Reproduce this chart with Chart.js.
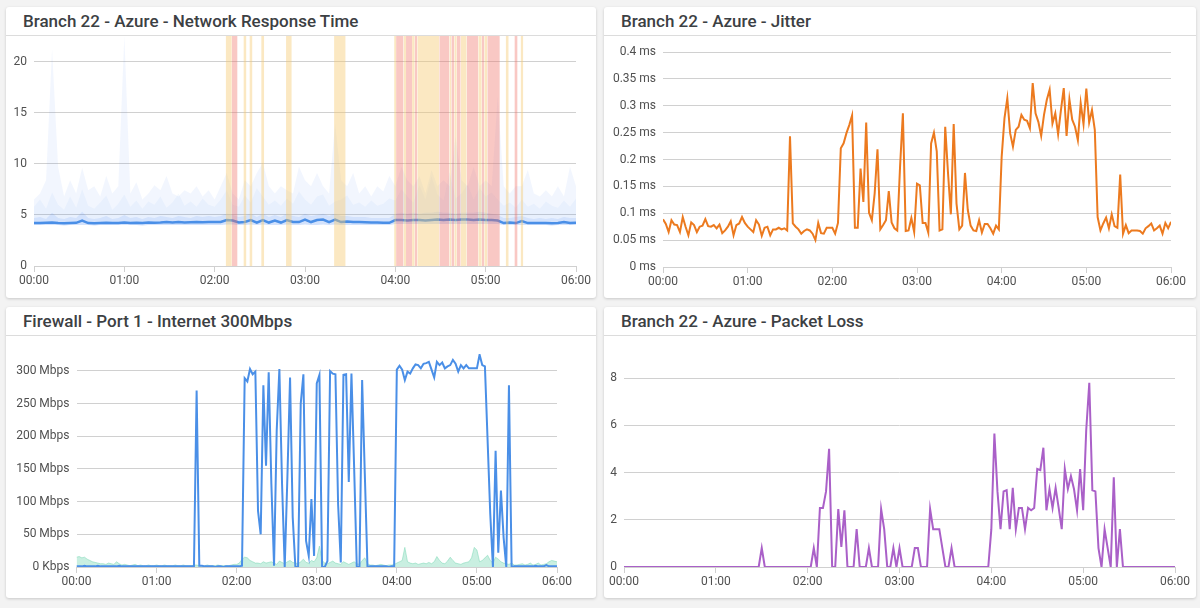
<!DOCTYPE html>
<html>
<head>
<meta charset="utf-8">
<script src="https://cdn.jsdelivr.net/npm/chart.js@4/dist/chart.umd.min.js"></script>
<style>
  html, body { margin: 0; padding: 0; }
  body { width: 1200px; height: 608px; background: #f3f3f3; position: relative; overflow: hidden; font-family: Roboto, sans-serif; }
  .card { position: absolute; background: #fff; border-radius: 3px; box-shadow: 0 1px 3px rgba(0,0,0,0.18); }
  .card-title { height: 28px; line-height: 28px; padding-left: 17px; font-size: 17px; font-weight: 500; color: #3c4043; border-bottom: 1px solid #dcdcdc; white-space: nowrap; }
  .card canvas { display: block; }
</style>
</head>
<body>
<div class="card" style="left:6px;top:7px;width:590px;height:291px;">
  <div class="card-title">Branch 22 - Azure - Network Response Time</div>
  <canvas id="chart-rt" width="590" height="262"></canvas>
</div>
<div class="card" style="left:604px;top:7px;width:592px;height:291px;">
  <div class="card-title">Branch 22 - Azure - Jitter</div>
  <canvas id="chart-jitter" width="592" height="262"></canvas>
</div>
<div class="card" style="left:6px;top:307px;width:590px;height:291px;">
  <div class="card-title">Firewall - Port 1 - Internet 300Mbps</div>
  <canvas id="chart-fw" width="590" height="262"></canvas>
</div>
<div class="card" style="left:604px;top:307px;width:592px;height:291px;">
  <div class="card-title">Branch 22 - Azure - Packet Loss</div>
  <canvas id="chart-loss" width="592" height="262"></canvas>
</div>

<script>
'use strict';

// --- Network response time (4 min samples) ---
const RT_MEDIAN = [
  4.2, 4.2, 4.22, 4.25, 4.2, 4.18, 4.2, 4.22, 4.45, 4.2,
  4.18, 4.2, 4.22, 4.2, 4.2, 4.25, 4.2, 4.22, 4.2, 4.25,
  4.22, 4.25, 4.3, 4.25, 4.3, 4.25, 4.28, 4.3, 4.28, 4.3,
  4.3, 4.3, 4.5, 4.45, 4.25, 4.3, 4.5, 4.25, 4.5, 4.25,
  4.45, 4.25, 4.5, 4.3, 4.3, 4.55, 4.3, 4.5, 4.55, 4.3,
  4.55, 4.3, 4.35, 4.3, 4.3, 4.28, 4.25, 4.25, 4.22, 4.22,
  4.5, 4.5, 4.45, 4.5, 4.5, 4.45, 4.5, 4.55, 4.5, 4.55,
  4.5, 4.55, 4.55, 4.5, 4.55, 4.5, 4.5, 4.45, 4.2, 4.25,
  4.2, 4.4, 4.2, 4.2, 4.2, 4.2, 4.18, 4.2, 4.3, 4.2,
  4.22
];
const RT_LOW = [
  4.0, 4.0, 4.0, 4.0, 4.0, 3.95, 4.0, 4.0, 4.0, 4.0,
  3.95, 4.0, 4.0, 4.0, 4.0, 4.0, 4.0, 4.0, 3.95, 4.0,
  4.0, 4.0, 4.0, 4.0, 4.0, 4.0, 4.0, 4.0, 4.0, 4.0,
  4.0, 4.0, 4.05, 4.05, 4.0, 4.0, 4.05, 4.0, 4.05, 4.0,
  4.0, 4.0, 4.05, 4.0, 4.0, 4.05, 4.0, 4.0, 4.05, 4.0,
  4.05, 4.0, 4.0, 4.0, 4.0, 4.0, 4.0, 4.0, 4.0, 4.0,
  4.1, 4.1, 4.1, 4.1, 4.1, 4.1, 4.1, 4.1, 4.1, 4.1,
  4.1, 4.1, 4.1, 4.1, 4.1, 4.1, 4.1, 4.1, 4.0, 4.0,
  4.0, 4.0, 4.0, 4.0, 4.0, 4.0, 3.95, 4.0, 4.0, 4.0,
  4.0
];
const RT_P75 = [
  4.7, 4.8, 4.6, 5.2, 4.7, 4.6, 4.8, 4.7, 5.3, 4.7,
  4.6, 4.7, 4.9, 4.6, 4.7, 5.0, 4.7, 4.8, 4.6, 4.8,
  4.7, 4.9, 4.8, 4.7, 4.9, 4.8, 4.7, 4.9, 4.8, 4.9,
  4.8, 4.9, 5.1, 5.0, 4.8, 4.9, 5.1, 4.8, 5.1, 4.8,
  5.0, 4.8, 5.1, 4.9, 4.8, 5.1, 4.9, 5.0, 5.1, 4.9,
  5.1, 4.9, 4.9, 4.8, 4.8, 4.8, 4.7, 4.7, 4.7, 4.7,
  5.1, 5.2, 5.1, 5.2, 5.1, 5.2, 5.2, 5.3, 5.2, 5.2,
  5.1, 5.2, 5.2, 5.2, 5.3, 5.2, 5.1, 5.0, 4.7, 4.7,
  4.8, 4.9, 4.7, 4.6, 4.7, 4.6, 4.7, 4.6, 4.8, 4.7,
  4.7
];
const RT_P90 = [
  5.8, 6.5, 5.6, 7.2, 6.0, 5.5, 6.8, 5.7, 7.5, 5.9,
  5.6, 6.2, 6.9, 5.5, 6.1, 7.0, 5.8, 6.4, 5.6, 6.3,
  6.0, 6.8, 5.7, 6.2, 7.1, 5.9, 6.3, 5.8, 6.6, 6.0,
  5.8, 6.5, 7.4, 6.0, 5.8, 6.9, 6.2, 7.6, 6.8, 6.0,
  6.4, 5.9, 6.6, 6.1, 7.3, 6.5, 6.0, 6.8, 7.0, 5.9,
  6.3, 6.5, 6.9, 6.0, 6.2, 5.8, 6.4, 5.9, 6.1, 6.6,
  6.4, 7.5, 6.8, 6.2, 7.9, 6.5, 8.8, 7.0, 6.4, 9.2,
  6.6, 7.1, 8.0, 6.5, 7.6, 6.8, 7.2, 6.5, 5.9, 6.2,
  5.7, 6.5, 5.8, 6.1, 5.6, 6.3, 5.9, 5.7, 6.4, 5.8,
  6.6
];
const RT_MAX = [
  6.5, 7.1, 8.4, 21.2, 9.7, 6.8, 8.4, 7.1, 9.6, 7.4,
  7.8, 6.8, 8.8, 7.1, 7.8, 22.5, 7.1, 8.2, 6.5, 7.1,
  7.9, 7.4, 8.8, 7.1, 6.8, 7.4, 7.1, 7.8, 6.8, 7.4,
  6.5, 7.8, 9.1, 7.1, 6.5, 8.4, 7.8, 9.1, 10.1, 7.8,
  7.1, 7.8, 7.4, 7.1, 9.7, 8.4, 7.8, 9.1, 7.8, 7.1,
  14.0, 8.4, 7.8, 9.1, 7.1, 7.8, 6.8, 7.8, 7.3, 8.8,
  7.8, 9.7, 8.4, 7.8, 8.8, 7.1, 9.4, 7.8, 8.4, 7.8,
  12.7, 8.4, 7.8, 9.7, 7.8, 8.4, 7.8, 16.6, 7.8, 7.1,
  7.8, 7.8, 9.4, 7.1, 6.8, 7.4, 6.8, 7.8, 6.8, 9.7,
  7.8
];
const RT_TIMES = RT_MEDIAN.map((_, i) => i * 4);
const RT_Y_MAX = 22.5;

// threshold bands, [start, end] in minutes
const RT_WARN_BANDS = [
  [127.3, 131.4], [139.1, 141.1], [143.1, 145.1], [150.9, 152.9], [167.4, 171.2],
  [199.3, 207.0], [239.2, 240.5], [245.4, 247.1], [251.1, 252.9], [254.6, 269.2],
  [275.9, 277.2], [279.2, 280.8], [283.4, 287.4], [295.1, 297.4], [299.1, 301.1],
  [313.3, 315.3], [323.2, 325.0]
];
const RT_ALERT_BANDS = [
  [131.4, 135.2], [240.5, 245.4], [247.1, 251.1], [252.9, 254.6], [269.2, 275.9],
  [277.2, 279.2], [280.8, 283.4], [287.4, 295.1], [297.4, 299.1], [301.1, 309.4],
  [319.1, 321.2]
];

// --- Jitter, firewall and packet loss (2 min samples) ---
const JITTER_MS = [
  0.089, 0.08, 0.065, 0.087, 0.079, 0.078, 0.065, 0.093, 0.075, 0.059,
  0.083, 0.078, 0.065, 0.075, 0.077, 0.089, 0.076, 0.075, 0.078, 0.072,
  0.079, 0.063, 0.068, 0.075, 0.085, 0.059, 0.078, 0.081, 0.093, 0.082,
  0.075, 0.07, 0.065, 0.087, 0.079, 0.058, 0.073, 0.075, 0.059, 0.07,
  0.07, 0.073, 0.07, 0.072, 0.068, 0.243, 0.081, 0.075, 0.07, 0.062,
  0.067, 0.07, 0.068, 0.062, 0.05, 0.082, 0.063, 0.062, 0.073, 0.073,
  0.073, 0.062, 0.082, 0.221, 0.23, 0.249, 0.264, 0.282, 0.073, 0.073,
  0.183, 0.121, 0.269, 0.101, 0.087, 0.137, 0.219, 0.07, 0.078, 0.087,
  0.141, 0.083, 0.072, 0.068, 0.187, 0.286, 0.067, 0.068, 0.091, 0.065,
  0.155, 0.152, 0.082, 0.082, 0.064, 0.23, 0.25, 0.215, 0.068, 0.07,
  0.261, 0.174, 0.098, 0.266, 0.118, 0.07, 0.077, 0.175, 0.106, 0.077,
  0.068, 0.067, 0.087, 0.064, 0.08, 0.08, 0.072, 0.062, 0.077, 0.07,
  0.205, 0.277, 0.314, 0.249, 0.224, 0.255, 0.261, 0.283, 0.274, 0.272,
  0.258, 0.342, 0.286, 0.27, 0.244, 0.283, 0.311, 0.33, 0.267, 0.286,
  0.247, 0.292, 0.333, 0.244, 0.312, 0.274, 0.261, 0.236, 0.305, 0.266,
  0.332, 0.269, 0.292, 0.255, 0.093, 0.068, 0.081, 0.092, 0.072, 0.098,
  0.076, 0.073, 0.172, 0.062, 0.078, 0.063, 0.068, 0.068, 0.068, 0.067,
  0.062, 0.072, 0.076, 0.081, 0.068, 0.072, 0.077, 0.062, 0.082, 0.072,
  0.084
];
const FW_IN_MBPS = [
  1, 1, 1, 2, 1, 1, 1, 1, 2, 1,
  1, 1, 1, 1, 1, 1, 2, 1, 1, 1,
  1, 1, 1, 1, 1, 1, 1, 1, 1, 1,
  1, 1, 1, 1, 1, 1, 1, 1, 1, 1,
  1, 1, 1, 1, 1, 270, 2, 2, 1, 1,
  1, 1, 0, 1, 1, 0, 1, 1, 1, 1,
  1, 1, 2, 289, 284, 303, 295, 299, 86, 50,
  278, 155, 298, 127, 2, 209, 303, 127, 0, 137,
  290, 76, 0, 0, 250, 295, 40, 17, 104, 17,
  281, 294, 0, 0, 9, 300, 296, 295, 96, 7,
  294, 295, 130, 296, 153, 0, 0, 286, 143, 0,
  1, 1, 1, 1, 1, 1, 1, 0, 1, 1,
  302, 308, 302, 286, 299, 296, 304, 310, 309, 304,
  311, 312, 314, 302, 290, 314, 309, 313, 304, 307,
  309, 317, 311, 299, 309, 304, 309, 304, 304, 304,
  304, 325, 309, 307, 194, 81, 0, 178, 22, 117,
  45, 0, 278, 0, 1, 1, 1, 1, 1, 1,
  1, 1, 2, 1, 1, 1, 3, 1, 1, 1,
  1
];
const FW_OUT_MBPS = [
  15, 16, 14, 15, 12, 10, 8, 7, 6, 5,
  5, 4, 6, 5, 4, 8, 5, 3, 4, 3,
  2, 3, 4, 2, 3, 2, 2, 3, 2, 2,
  3, 2, 2, 3, 2, 2, 2, 3, 2, 2,
  3, 2, 2, 2, 3, 3, 2, 2, 2, 3,
  2, 2, 2, 3, 2, 2, 2, 2, 3, 4,
  4, 6, 12, 15, 14, 10, 8, 6, 6, 5,
  8, 6, 7, 8, 6, 4, 9, 7, 5, 8,
  10, 7, 6, 5, 8, 12, 7, 6, 10, 8,
  14, 32, 10, 6, 5, 7, 9, 6, 5, 4,
  8, 6, 4, 6, 8, 5, 4, 10, 14, 5,
  3, 3, 2, 3, 4, 3, 2, 3, 3, 4,
  6, 8, 10, 30, 8, 6, 5, 6, 4, 5,
  6, 5, 7, 5, 8, 16, 10, 6, 5, 9,
  15, 10, 6, 5, 4, 6, 7, 8, 14, 30,
  26, 8, 10, 14, 18, 10, 6, 15, 12, 8,
  6, 5, 4, 6, 3, 3, 4, 5, 3, 4,
  6, 3, 4, 6, 3, 4, 5, 8, 10, 9,
  8
];
const PACKET_LOSS = [
  0, 0, 0, 0, 0, 0, 0, 0, 0, 0,
  0, 0, 0, 0, 0, 0, 0, 0, 0, 0,
  0, 0, 0, 0, 0, 0, 0, 0, 0, 0,
  0, 0, 0, 0, 0, 0, 0, 0, 0, 0,
  0, 0, 0, 0, 0, 0.8, 0, 0, 0, 0,
  0, 0, 0, 0, 0, 0, 0, 0, 0, 0,
  0, 0, 0.8, 0, 2.5, 2.5, 3.2, 5, 0, 0,
  2.45, 0.85, 2.4, 0, 0, 0, 1.6, 0, 0, 0,
  0.8, 0, 0, 0, 2.45, 1.6, 0, 0, 0.8, 0,
  0.8, 0, 0, 0, 0, 0.8, 0.8, 0, 0, 0,
  2.45, 1.6, 1.6, 1.6, 0.8, 0, 0, 0.8, 0, 0,
  0, 0, 0, 0, 0, 0, 0, 0, 0, 0,
  1.6, 5.65, 3.2, 1.6, 3.2, 3.25, 1.6, 3.35, 1.6, 2.5,
  2.5, 1.6, 2.5, 2.4, 2.5, 4.15, 4.1, 5.05, 2.4, 3.3,
  2.5, 3.35, 2.5, 1.6, 4.15, 3.3, 3.85, 3.3, 2.4, 4.15,
  2.4, 5.8, 7.8, 3.25, 3.2, 0.8, 0, 1.6, 0.8, 0,
  3.8, 0, 1.6, 0, 0, 0, 0, 0, 0, 0,
  0, 0, 0, 0, 0, 0, 0, 0, 0, 0,
  0
];
const SAMPLE_MINUTES = JITTER_MS.map((_, i) => i * 2);

const HOUR_TICKS = ['00:00', '01:00', '02:00', '03:00', '04:00', '05:00', '06:00'];

const BLUE = '#4a8fe7';
const ORANGE = '#ec7a1f';
const PURPLE = '#aa60c8';
const GRID = '#d0d0d0';
const TICK_COLOR = '#505050';

Chart.defaults.font.family = 'Roboto, sans-serif';
Chart.defaults.font.size = 12;
Chart.defaults.color = TICK_COLOR;
Chart.defaults.animation = false;

function timeAxis(height) {
  return {
    type: 'linear', min: 0, max: 360,
    ticks: { stepSize: 60, padding: 2, maxRotation: 0, autoSkip: false, color: TICK_COLOR, callback: v => HOUR_TICKS[v / 60] },
    grid: { drawOnChartArea: false, drawTicks: true, tickLength: 6, color: GRID },
    border: { display: true, color: GRID },
    afterFit: s => { s.height = height; }
  };
}

function valueAxis(width, max, step, fmt) {
  return {
    min: 0, max,
    ticks: { stepSize: step, padding: 7, color: TICK_COLOR, callback: fmt },
    afterBuildTicks: s => { s.ticks = s.ticks.filter(t => Math.abs(t.value / step - Math.round(t.value / step)) < 1e-6); },
    grid: { drawTicks: false, color: GRID },
    border: { display: false },
    // fixed axis width, and no extra room above the top label
    afterFit: s => { s.width = width; s.paddingTop = 0; s.paddingBottom = 0; }
  };
}

function baseOptions(pad, scales) {
  return {
    responsive: false,
    animation: false,
    layout: { padding: pad },
    plugins: { legend: { display: false }, tooltip: { enabled: false } },
    elements: { point: { radius: 0 }, line: { tension: 0 } },
    scales
  };
}

function bandPoints(bands, top) {
  const pts = [];
  bands.forEach(([s, e]) => { pts.push({ x: s, y: top }, { x: e, y: top }, { x: e, y: null }); });
  return pts;
}

// Network response time
new Chart(document.getElementById('chart-rt'), {
  type: 'line',
  data: {
    labels: RT_TIMES,
    datasets: [
      { data: bandPoints(RT_WARN_BANDS, RT_Y_MAX), fill: 'origin', spanGaps: false, borderColor: 'rgba(0,0,0,0)', borderWidth: 0, backgroundColor: 'rgba(246,200,110,0.42)', order: 0 },
      { data: bandPoints(RT_ALERT_BANDS, RT_Y_MAX), fill: 'origin', spanGaps: false, borderColor: 'rgba(0,0,0,0)', borderWidth: 0, backgroundColor: 'rgba(240,110,100,0.38)', order: 0 },
      { data: RT_MEDIAN, borderColor: BLUE, borderWidth: 2.5, fill: false, order: 1 },
      { data: RT_P75, borderColor: 'rgba(0,0,0,0)', borderWidth: 0, fill: 6, backgroundColor: 'rgba(66,133,244,0.13)', order: 2 },
      { data: RT_P90, borderColor: 'rgba(0,0,0,0)', borderWidth: 0, fill: 6, backgroundColor: 'rgba(66,133,244,0.05)', order: 3 },
      { data: RT_MAX, borderColor: 'rgba(0,0,0,0)', borderWidth: 0, fill: 6, backgroundColor: 'rgba(66,133,244,0.07)', order: 4 },
      { data: RT_LOW, borderColor: 'rgba(0,0,0,0)', borderWidth: 0, fill: false, order: 5 }
    ]
  },
  options: baseOptions({ top: 0, right: 20, bottom: 0, left: 0 }, {
    x: timeAxis(32),
    y: valueAxis(28, RT_Y_MAX, 5, v => String(v))
  })
});

// Jitter
new Chart(document.getElementById('chart-jitter'), {
  type: 'line',
  data: {
    labels: SAMPLE_MINUTES,
    datasets: [{ data: JITTER_MS, borderColor: ORANGE, borderWidth: 2, fill: false }]
  },
  options: baseOptions({ top: 16, right: 25, bottom: 0, left: 0 }, {
    x: timeAxis(31),
    y: valueAxis(59, 0.4, 0.05, v => parseFloat(v.toFixed(2)) + ' ms')
  })
});

// Firewall throughput
new Chart(document.getElementById('chart-fw'), {
  type: 'line',
  data: {
    labels: SAMPLE_MINUTES,
    datasets: [
      { data: FW_IN_MBPS, borderColor: BLUE, borderWidth: 2, fill: false, order: 0 },
      { data: FW_OUT_MBPS, borderColor: 'rgba(120,215,180,0.5)', borderWidth: 1, fill: 'origin', backgroundColor: 'rgba(120,215,180,0.4)', order: 1 }
    ]
  },
  options: baseOptions({ top: 18, right: 39, bottom: 0, left: 0 }, {
    x: timeAxis(31),
    y: valueAxis(70.5, 326, 50, v => v === 0 ? '0 Kbps' : v + ' Mbps')
  })
});

// Packet loss
new Chart(document.getElementById('chart-loss'), {
  type: 'line',
  data: {
    labels: SAMPLE_MINUTES,
    datasets: [{ data: PACKET_LOSS, borderColor: PURPLE, borderWidth: 2, fill: false }]
  },
  options: baseOptions({ top: 42, right: 21, bottom: 0, left: 0 }, {
    x: timeAxis(31),
    y: valueAxis(20, 8, 2, v => String(v))
  })
});
</script>
</body>
</html>
